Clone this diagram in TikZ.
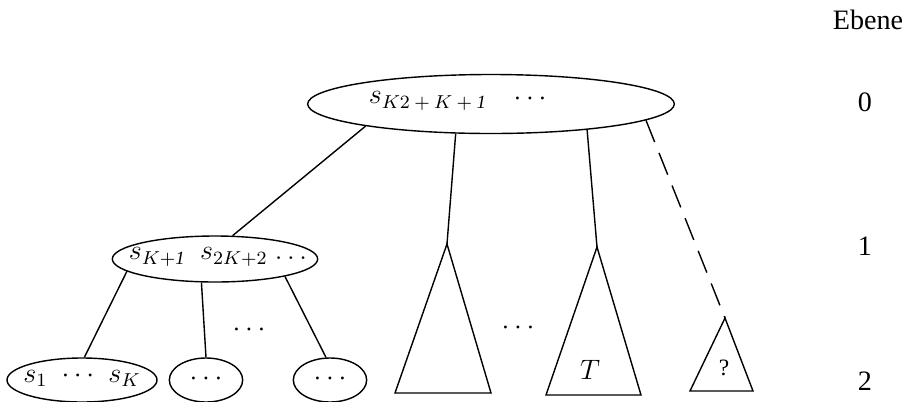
\documentclass[tikz,border=0pt]{standalone}
\usepackage{fontspec}
\setmainfont{Liberation Serif}
\usetikzlibrary{shapes.geometric}

\begin{document}
\begin{tikzpicture}[x=0.015cm,y=-0.015cm,font=\large,line width=0.6pt,
  knot/.style={draw,ellipse,inner sep=0pt,minimum height=0.66cm},
  gap/.style={dash pattern=on 10pt off 5pt}]
\useasboundingbox (0,0) rectangle (907,401);

% Ebenen
\node (ebene) at (868,20) {Ebene};
\node (lev0) at (865,102) {0};
\node (lev1) at (865,246) {1};
\node (lev2) at (865,381) {2};

% Knoten
\node[knot,minimum width=5.5cm,minimum height=0.885cm] (root) at (491,104) {};
\node[knot,minimum width=3.08cm,minimum height=0.69cm] (L) at (215,259) {};
\node[knot,minimum width=2.25cm] (e1) at (82,380) {};
\node[knot,minimum width=1.1cm] (e2) at (206,380) {};
\node[knot,minimum width=1.1cm] (e3) at (330,380) {};

\node (rootS) at (428,101) {$s_{K2\:+\:K\:+\:\mathit{1}}$};
\node (rootDots) at (530,99) {$\cdots$};
\node (Ltext) at (218,257) {$s_{K+\mathit{1}}$\enspace$s_{2K+2}$\ $\ldots$};
\node (e1text) at (82,378) {$s_1$\ \ $\cdots$\ \ $s_K$};
\node (e2text) at (206,379) {$\cdots$};
\node (e3text) at (330,379) {$\cdots$};

% Teilbaeume
\coordinate (t1) at (447,244);
\coordinate (t2) at (597,247);
\coordinate (t3) at (725,318);
\draw (t1) -- (395,393) -- (491,393) -- cycle;
\draw (t2) -- (546,395) -- (641,395) -- cycle;
\draw (t3) -- (690,391) -- (753,391) -- cycle;
\node (T) at (590,370) {$T$};
\node[font=\normalsize] (q) at (724,368) {?};

\node (dotsA) at (249,330) {$\cdots$};
\node (dotsB) at (518,328) {$\cdots$};

\draw (root.190) -- (L.53);
\draw (root.220) -- (t1);
\draw (root.345) -- (t2);
\draw[gap] (root.354) -- (t3);
\draw (L.188) -- (e1.84);
\draw (L.240) -- (e2.north);
\draw (L.346) -- (e3.100);
\end{tikzpicture}
\end{document}
